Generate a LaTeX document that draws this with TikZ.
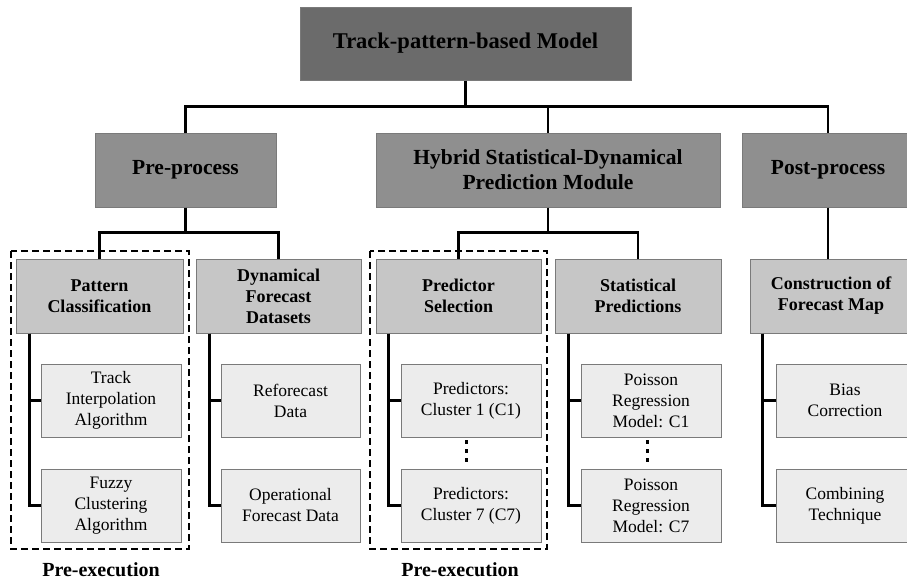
\documentclass[tikz,border=0pt]{standalone}
\usepackage{fontspec}
\setmainfont{Liberation Serif}
\definecolor{topgray}{HTML}{6B6B6B}
\definecolor{midgray}{HTML}{8F8F8F}
\definecolor{headgray}{HTML}{C6C6C6}
\definecolor{leafgray}{HTML}{ECECEC}
\definecolor{edgegray}{HTML}{7A7A7A}
\begin{document}
\begin{tikzpicture}[x=1pt, y=-1pt,
    box/.style={draw=edgegray, line width=1pt, inner sep=0pt, align=center, text=black},
    topbox/.style={box, fill=topgray, minimum height=73pt, font=\bfseries\fontsize{22.5pt}{26pt}\selectfont},
    modbox/.style={box, fill=midgray, minimum height=74pt, font=\bfseries\fontsize{21.5pt}{25pt}\selectfont},
    headbox/.style={box, fill=headgray, minimum height=74pt, font=\bfseries\fontsize{18pt}{21pt}\selectfont},
    leafbox/.style={box, fill=leafgray, minimum height=73pt, font=\fontsize{17.5pt}{21pt}\selectfont},
    conn/.style={line width=2.3pt, black},
    group/.style={line width=2.4pt, dash pattern=on 7pt off 4pt}]
      \useasboundingbox (0,0) rectangle (907,581);
      % levels one and two
      \node[topbox, minimum width=331pt] (model) at (465.5,43.5) {Track-pattern-based Model};
      \node[modbox, minimum width=181pt] (pre) at (185.5,170) {Pre-process};
      \node[modbox, minimum width=344pt] (hsd) at (548,170) {Hybrid Statistical-Dynamical\\Prediction Module};
      \node[modbox, minimum width=172pt] (post) at (828,170) {Post-process};
      % headers
      \node[headbox, minimum width=167pt] (pattern) at (99.5,296) {Pattern\\Classification};
      \node[headbox, minimum width=165pt] (dynamical) at (278.5,296) {Dynamical\\Forecast\\Datasets};
      \node[headbox, minimum width=165pt] (selection) at (458.5,296) {Predictor\\Selection};
      \node[headbox, minimum width=166pt] (statistical) at (638,296) {Statistical\\Predictions};
      \node[headbox, minimum width=162pt] (construction) at (831,296) {Construction of\\Forecast Map};
      % leaves
      \node[leafbox, minimum width=140pt] (interp) at (111,400.5) {Track\\Interpolation\\Algorithm};
      \node[leafbox, minimum width=140pt] (fuzzy) at (111,505.5) {Fuzzy\\Clustering\\Algorithm};
      \node[leafbox, minimum width=139pt] (reforecast) at (290.5,400.5) {Reforecast\\Data};
      \node[leafbox, minimum width=139pt] (operational) at (290.5,505.5) {Operational\\Forecast Data};
      \node[leafbox, minimum width=140pt] (clusterone) at (471,400.5) {Predictors:\\Cluster 1 (C1)};
      \node[leafbox, minimum width=140pt] (clusterseven) at (471,505.5) {Predictors:\\Cluster 7 (C7)};
      \node[leafbox, minimum width=140pt] (poissonone) at (651,400.5) {Poisson\\Regression\\Model: C1};
      \node[leafbox, minimum width=140pt] (poissonseven) at (651,505.5) {Poisson\\Regression\\Model: C7};
      \node[leafbox, minimum width=138pt] (bias) at (845,400.5) {Bias\\Correction};
      \node[leafbox, minimum width=138pt] (combining) at (845,505.5) {Combining\\Technique};
      % connectors
      \draw[conn] (model.south) -- ++(0,26) coordinate (split);
      \draw[conn] (split) -| (pre.north);
      \draw[conn] (split) -| (hsd.north);
      \draw[conn] (split) -| (post.north);
      \draw[conn] (pre.south) -- ++(0,25) coordinate (presplit);
      \draw[conn] (presplit) -| (pattern.north);
      \draw[conn] (presplit) -| (dynamical.north);
      \draw[conn] (hsd.south) -- ++(0,25) coordinate (hsdsplit);
      \draw[conn] (hsdsplit) -| (selection.north);
      \draw[conn] (hsdsplit) -| (statistical.north);
      \draw[conn] (post.south) -- (post.south |- construction.north);
      \draw[conn] ([xshift=14pt]pattern.south west) |- (interp.west);
      \draw[conn] ([xshift=14pt]pattern.south west) |- (fuzzy.west);
      \draw[conn] ([xshift=14pt]dynamical.south west) |- (reforecast.west);
      \draw[conn] ([xshift=14pt]dynamical.south west) |- (operational.west);
      \draw[conn] ([xshift=13pt]selection.south west) |- (clusterone.west);
      \draw[conn] ([xshift=13pt]selection.south west) |- (clusterseven.west);
      \draw[conn] ([xshift=14pt]statistical.south west) |- (poissonone.west);
      \draw[conn] ([xshift=14pt]statistical.south west) |- (poissonseven.west);
      \draw[conn] ([xshift=13pt]construction.south west) |- (bias.west);
      \draw[conn] ([xshift=13pt]construction.south west) |- (combining.west);
      % vertical dots
      \foreach \y in {442,451,460} {
        \fill (464.5,\y-1.8) rectangle (468,\y+1.8);
        \fill (645.5,\y-1.8) rectangle (649,\y+1.8);
      }
      % pre-execution groups
      \draw[group] (11,251) rectangle (189,549);
      \draw[group] (370,251) rectangle (547,549);
      \node[anchor=base, font=\bfseries\fontsize{20pt}{24pt}\selectfont] (preexecone) at (101,576) {Pre-execution};
      \node[anchor=base, font=\bfseries\fontsize{20pt}{24pt}\selectfont] (preexectwo) at (460,576) {Pre-execution};
\end{tikzpicture}
\end{document}
